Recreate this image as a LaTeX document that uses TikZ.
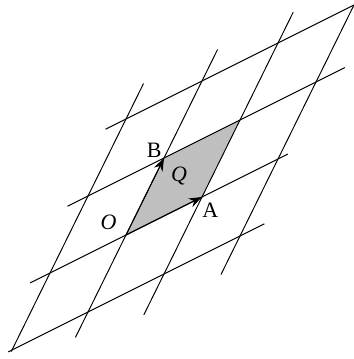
\documentclass[tikz,border=0pt]{standalone}
\usepackage{fontspec}
\setmainfont{Liberation Serif}
\usetikzlibrary{arrows.meta}
\begin{document}
\begin{tikzpicture}[x=1cm,y=1cm,line width=0.55pt,font=\fontsize{12.5}{14}\selectfont,
  lbl/.style={inner sep=0pt}]
\useasboundingbox (0,0) rectangle (7.08,7.18);
\begin{scope}[shift={(2.52,2.48)},x={(1.52cm,0.76cm)},y={(0.76cm,1.54cm)}]
\coordinate (O) at (0,0); \coordinate (A) at (1,0); \coordinate (B) at (0,1);
\coordinate (C) at (1,1); \coordinate (M) at (0.5,0.5);
\fill[black!25] (O)--(A)--(C)--(B)--cycle;
% lines along OA
\draw (-1.05,-1)--(2.32,-1); \draw (-1.26,0)--(2.13,0);
\draw (-1.27,1)--(2.38,1); \draw (-1.27,2)--(1.99,2);
% lines along OB
\draw (-1,-1.02)--(-1,2.46); \draw (0,-1.33)--(0,2.41);
\draw (1,-1.53)--(1,2.4); \draw (2,-1.5)--(2,2.04);
\draw[-{Stealth[length=2.6mm,width=1.9mm]}] (O)--(A);
\draw[-{Stealth[length=2.6mm,width=1.9mm]}] (O)--(B);
\end{scope}
\node[lbl,anchor=north west] (la) at ([yshift=-0.12cm]A) {A};
\node[lbl,anchor=south east] (lb) at ([xshift=-0.04cm]B) {B};
\node[lbl,anchor=south east] (lo) at ([xshift=-0.18cm,yshift=0.1cm]O) {\textit{O}};
\node[lbl] (lq) at ([xshift=-0.08cm,yshift=0.03cm]M) {\textit{Q}};
\end{tikzpicture}
\end{document}
